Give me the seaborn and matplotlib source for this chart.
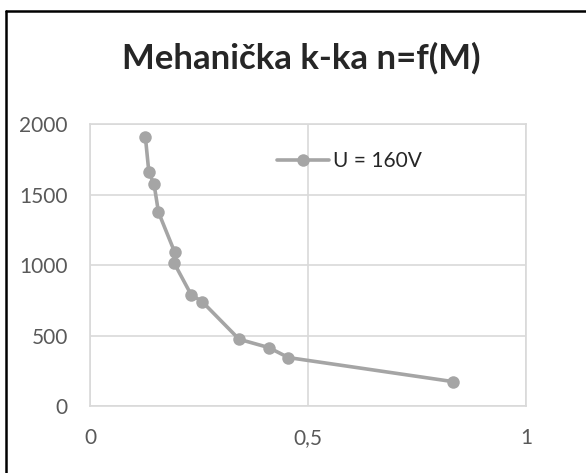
import seaborn as sns
import matplotlib.pyplot as plt
from matplotlib.lines import Line2D
import pandas as pd

# mehanička karakteristika, U = 160V
M = [0.127, 0.135, 0.147, 0.157, 0.194, 0.193, 0.232, 0.257, 0.342, 0.41, 0.455, 0.833]
n = [1910, 1660, 1573, 1376, 1094, 1015, 790, 742, 474, 415, 344, 173]
series = "U = 160V"
xticks = [0, 0.5, 1]
xticklabels = ["0", "0,5", "1"]
yticks = [0, 500, 1000, 1500, 2000]

df = pd.DataFrame({"M": M, "n": n, "serija": series})

sns.set_style("white")
plt.rcParams['font.family'] = ['Lato', 'DejaVu Sans']

fig = plt.figure(figsize=(5.86, 4.73), dpi=100)
ax = fig.add_axes([0.1536, 0.1416, 0.744, 0.5956])

sns.lineplot(data=df, x="M", y="n", hue="serija", palette=["#A5A5A5"], sort=False,
             marker="o", markersize=9, markeredgewidth=0, linewidth=2.6, ax=ax)

ax.set_xlim(0, 1)
ax.set_ylim(0, 2000)
ax.set_xticks(xticks, xticklabels)
ax.set_yticks(yticks)
ax.grid(True, color="#D9D9D9", linewidth=1.2)
for s in ax.spines.values():
    s.set_color("#D9D9D9")
    s.set_linewidth(1.2)
ax.tick_params(length=0, labelsize=15, labelcolor="#595959", pad=16)
ax.set_xlabel("")
ax.set_ylabel("")

ax.legend(loc="upper left", bbox_to_anchor=(0.429, 0.905), frameon=False,
          fontsize=15, handlelength=2.5, handletextpad=0.2, borderaxespad=0,
          borderpad=0)

fig.text(0.514, 0.877, "Mehanička k-ka n=f(M)", ha="center", va="center",
         fontsize=25, fontweight="bold")

# okvir grafikona (gore i lijevo)
fig.add_artist(Line2D([0.011, 0.011], [0, 0.977], color="black", linewidth=1.8))
fig.add_artist(Line2D([0.011, 1], [0.977, 0.977], color="black", linewidth=1.8))

plt.savefig("out.png", dpi=100)
